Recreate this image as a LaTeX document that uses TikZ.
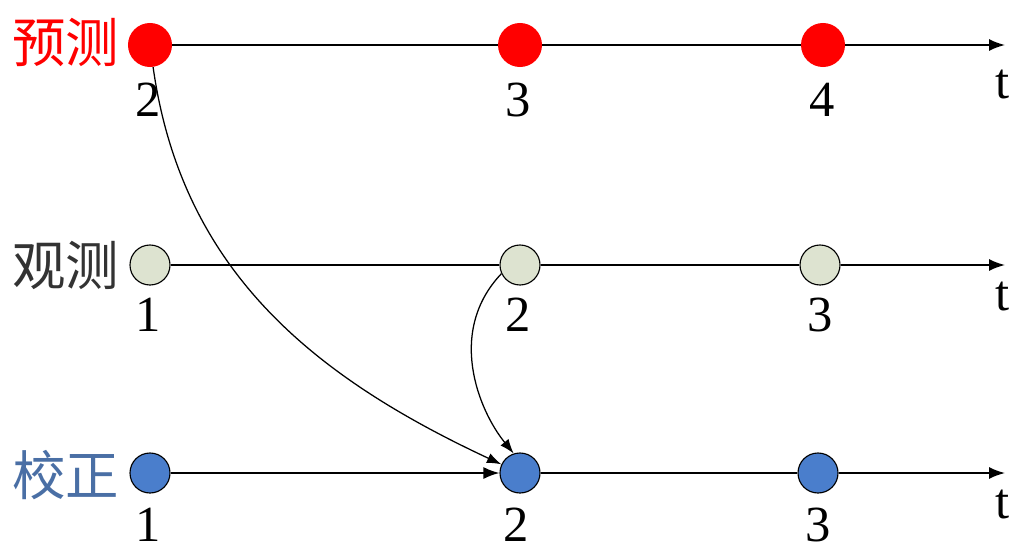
\documentclass[tikz,border=0pt]{standalone}
\usepackage{fontspec}
\setmainfont{Liberation Serif}
\newfontfamily\cjk{Noto Sans CJK SC}
\usetikzlibrary{arrows.meta}
\definecolor{predred}{RGB}{255,0,0}
\definecolor{obsgrey}{RGB}{221,227,208}
\definecolor{corrblue}{RGB}{74,126,204}
\definecolor{corrtext}{RGB}{74,111,165}

\begin{document}
\begin{tikzpicture}[x=0.025cm,y=-0.025cm,font=\fontsize{36}{40}\selectfont,
	dot/.style={circle,inner sep=0pt,minimum size=1cm},
	axis/.style={line width=1.2pt},
	tip/.style={-{Latex[length=0.4cm,width=0.3cm]}},
	link/.style={line width=0.9pt,-{Latex[length=0.36cm,width=0.26cm]}},
	rowlab/.style={anchor=east,font=\fontsize{38}{40}\selectfont\cjk}]
	\useasboundingbox (0,0) rectangle (1016,552);
	% time points
	\foreach \k/\x in {2/150,3/520,4/823} \node[dot,fill=predred,minimum size=1.1cm] (p\k) at (\x,45) {};
	\foreach \k/\x in {1/150,2/520,3/820} \node[dot,draw,line width=0.8pt,fill=obsgrey] (o\k) at (\x,265) {};
	\foreach \k/\x in {1/150,2/520,3/818} \node[dot,draw,line width=0.8pt,fill=corrblue] (c\k) at (\x,473) {};
	\foreach \k/\x in {2/148,3/518,4/822} \node (pn\k) at (\x,100) {\k};
	\foreach \k/\x in {1/148,2/518,3/820} \node (on\k) at (\x,315) {\k};
	\foreach \k/\x in {1/148,2/516,3/818} \node (cn\k) at (\x,525) {\k};
	\coordinate (pt) at (1005,45);
	\coordinate (ot) at (1005,265);
	\coordinate (ct) at (1005,473);
	\node (ptl) at (1003,84) {t};
	\node (otl) at (1003,296) {t};
	\node (ctl) at (1003,504) {t};
	\node[rowlab,text=predred] (plab) at (124,42) {预测};
	\node[rowlab,text=black!80] (olab) at (124,265) {观测};
	\node[rowlab,text=corrtext] (clab) at (124,475) {校正};
	% time axes
	\draw[axis,tip] (p2) -- (p3) -- (p4) -- (pt);
	\draw[axis,tip] (o1) -- (o2) -- (o3) -- (ot);
	\draw[axis,tip] (c1) -- (c2);
	\draw[axis,tip] (c2) -- (c3) -- (ct);
	% update
	\draw[link] (p2) to[out=-82,in=155] (c2);
	\draw[link] (o2.205) .. controls +(-55,58) and +(-35,-43) .. (c2.108);
\end{tikzpicture}
\end{document}
